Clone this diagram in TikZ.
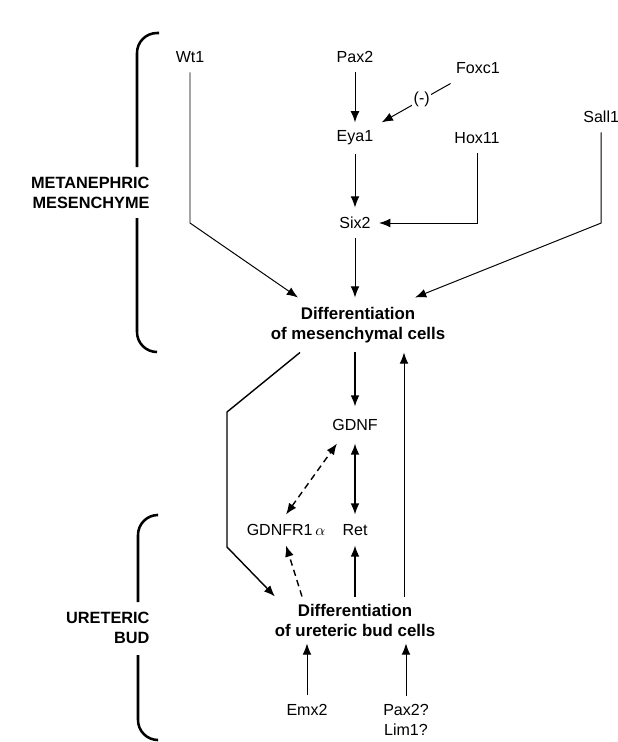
\documentclass[tikz,border=0pt]{standalone}
\usepackage{fontspec}
\setmainfont{Liberation Sans}
\usetikzlibrary{positioning,arrows.meta}

\begin{document}
\begin{tikzpicture}[
  font=\fontsize{11.4}{14.2}\selectfont,
  gene/.style={minimum height=0.75cm,inner sep=0.2cm},
  stage/.style={font=\fontsize{12}{14.2}\selectfont\bfseries,align=center,inner sep=0pt},
  region/.style={font=\fontsize{11.6}{14.2}\selectfont\bfseries,align=right,anchor=east,inner sep=0pt},
  brk/.style={line width=1.8pt,rounded corners=0.5cm},
  dsh/.style={dash pattern=on 1.6mm off 1.1mm},
  line width=0.7pt,
  >={Latex[length=2.8mm,width=2.2mm]}
]
\useasboundingbox (0,0) rectangle (15.45,-18.55);
% ---- metanephric mesenchyme ----
\node[gene] (wt1) at (4.75,-1.425) {Wt1};
\node[gene] (pax) at (8.875,-1.425) {Pax2};
\node[gene] (foxc) at (11.95,-1.7) {Foxc1};
\node[gene] (eya) at (8.875,-3.45) {Eya1};
\node[gene] (hox) at (11.925,-3.45) {Hox11};
\node[gene] (sall) at (15.03,-2.925) {Sall1};
\node[gene] (six) at (8.875,-5.575) {Six2};
\node[stage,minimum height=1.35cm] (diffM) at (8.95,-8.125) {Differentiation\\of mesenchymal cells};
\draw[->] (pax) -- (eya);
\draw[->] (foxc) -- node[pos=0.42,fill=white,inner sep=1pt]{(-)} (eya.north east);
\draw[->] (eya) -- (six);
\draw[->] (hox) |- (six);
\draw[->] (six) -- (six |- diffM.north);
\draw[->] (wt1) -- (wt1 |- six) -- ([xshift=-1.5cm]diffM.north);
\draw[->] (sall) -- (sall |- six) -- ([xshift=1.425cm]diffM.north);
% ---- ureteric bud ----
\node[gene,minimum height=0.9cm] (gdnf) at (8.875,-10.625) {GDNF};
\node[gene] (gdnfr) at (7.15,-13.25) {GDNFR1\,$\alpha$};
\node[gene] (ret) at (8.875,-13.25) {Ret};
\node[stage,minimum height=1.15cm] (diffU) at (8.875,-15.5) {Differentiation\\of ureteric bud cells};
\node[gene] (emx) at (7.675,-17.75) {Emx2};
\node[gene,align=center] (paxq) at (10.15,-18.0) {Pax2?\\Lim1?};
\coordinate (b1) at (5.675,-10.3);
\coordinate (b2) at (5.675,-13.675);
\coordinate (up) at ([xshift=1.225cm]diffU.north);
\draw[->,line width=1pt] (gdnf |- diffM.south) -- (gdnf);
\draw[<->,line width=1pt] (gdnf) -- (ret);
\draw[<->,dsh,line width=1pt] (gdnfr.north) -- ([xshift=-0.45cm]gdnf.south);
\draw[->,line width=1pt] (ret |- diffU.north) -- (ret);
\draw[->,dsh,line width=1pt] ([xshift=-1.325cm]diffU.north) -- (gdnfr.south);
\draw[->] (up) -- (up |- diffM.south);
\draw[->,line width=1pt] ([xshift=-1.45cm]diffM.south) -- (b1) -- (b2) -- ([xshift=-2cm]diffU.north);
\draw[->] (emx) -- (emx |- diffU.south);
\draw[->] (paxq) -- (paxq |- diffU.south);
% ---- brackets ----
\node[region] (mm) at (3.75,-4.825) {METANEPHRIC\\MESENCHYME};
\node[region] (ub) at (3.75,-15.7) {URETERIC\\BUD};
\draw[brk] (3.975,-0.825) -| (3.425,-4.175);
\draw[brk] (3.425,-5.45) |- (3.925,-8.8);
\draw[brk] (3.925,-12.875) -| (3.45,-15.05);
\draw[brk] (3.45,-16.375) |- (3.925,-18.5);
\end{tikzpicture}
\end{document}
